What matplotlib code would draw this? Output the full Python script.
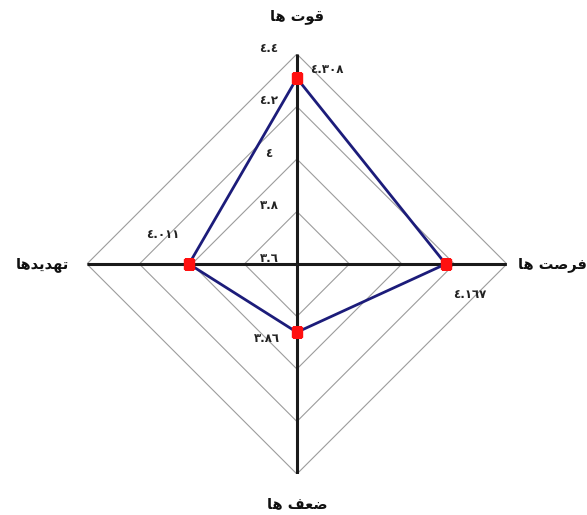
import numpy as np
import matplotlib
matplotlib.use("Agg")
import matplotlib.pyplot as plt
from matplotlib.transforms import offset_copy

# Persian labels (pre-shaped presentation forms, visual order)
categories = ["ﺎﻫ ﺕﻮﻗ", "ﺎﻫ ﺖﺻﺮﻓ", "ﺎﻫ ﻒﻌﺿ", "ﺎﻫﺪﻳﺪﻬﺗ"]
values = [4.308, 4.167, 3.86, 4.011]
value_labels = ["٤.٣٠٨", "٤.١٦٧", "٣.٨٦", "٤.٠١١"]
ring_levels = [3.6, 3.8, 4.0, 4.2, 4.4]
ring_labels = ["٣.٦", "٣.٨", "٤", "٤.٢", "٤.٤"]

plt.rcParams['font.family'] = ['DejaVu Sans']

fig = plt.figure(figsize=(5.87, 5.15), dpi=100)
ax = fig.add_axes([0.148, 0.0796, 0.7155, 0.8155], projection='polar')
ax.set_theta_zero_location('N')
ax.set_theta_direction(-1)
rmin, rmax = ring_levels[0], ring_levels[-1]
ax.set_ylim(rmin, rmax)
ax.grid(False)
ax.spines['polar'].set_visible(False)
ax.set_xticks([])
ax.set_yticks([])
ax.patch.set_alpha(0)

n = len(categories)
theta = np.arange(n) * 2 * np.pi / n
theta_c = np.append(theta, theta[0])

# rings (diamonds)
for lv in ring_levels[1:]:
    ax.plot(theta_c, [lv] * (n + 1), color='#9c9c9c', lw=0.8, zorder=1)

# axis spokes
for t in theta:
    ax.plot([t, t], [rmin, rmax], color='#1a1a1a', lw=2.2, zorder=2, solid_capstyle='butt')

# data polygon
vals_c = values + values[:1]
ax.plot(theta_c, vals_c, color='#1c1c7a', lw=2.0, zorder=3)
ax.plot(theta, values, linestyle='none', marker='s', color='#ff1010', ms=7.5, zorder=4)

# ring labels
for lv, lab in zip(ring_levels, ring_labels):
    tr = offset_copy(ax.transData, fig=fig, x=-28, y=6, units='dots')
    ax.text(0, lv, lab, transform=tr, ha='center', va='center', fontsize=8.5,
            fontweight='bold', color='#222222')

# value labels
offsets = [(30, 9), (24, -30), (-30, -6), (-26, 30)]
for t, v, lab, (dx, dy) in zip(theta, values, value_labels, offsets):
    tr = offset_copy(ax.transData, fig=fig, x=dx, y=dy, units='dots')
    ax.text(t, v, lab, transform=tr, ha='center', va='center', fontsize=8.5,
            fontweight='bold', color='#222222')

# category labels
cat_offsets = [(0, 38), (46, 0), (0, -30), (-44, 0)]
for t, lab, (dx, dy) in zip(theta, categories, cat_offsets):
    tr = offset_copy(ax.transData, fig=fig, x=dx, y=dy, units='dots')
    ax.text(t, rmax, lab, transform=tr, ha='center', va='center', fontsize=10.5,
            fontweight='bold', color='#111111')

fig.savefig('out.png', dpi=100)
